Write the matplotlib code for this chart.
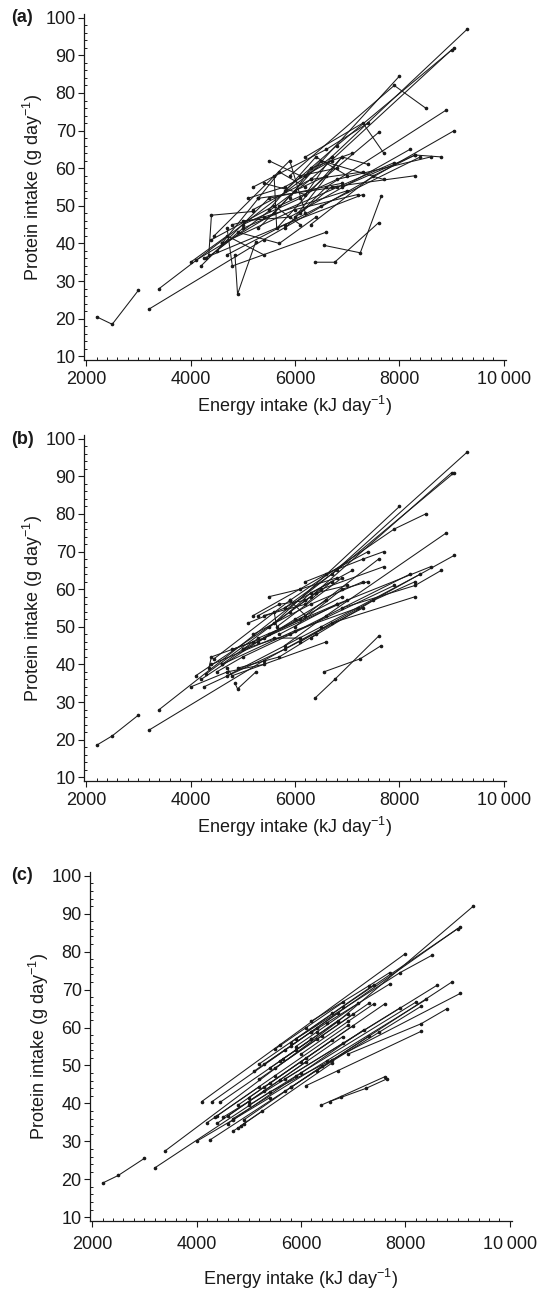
import matplotlib
matplotlib.use("Agg")
import matplotlib.pyplot as plt
from matplotlib.ticker import MultipleLocator, FuncFormatter

plt.rcParams['font.family'] = ['Liberation Sans', 'DejaVu Sans']
plt.rcParams['mathtext.fontset'] = 'custom'
plt.rcParams['mathtext.rm'] = 'Liberation Sans'
plt.rcParams['mathtext.it'] = 'Liberation Sans:italic'

# Energy intake (kJ/day) at the three visits, per subject
energy = [
    [2200, 2500, 3000], [3200, 5400, 9050], [3400, 6700, 9300], [4350, 4400, 5200],
    [4450, 5900, 6200], [4100, 5600, 8000], [4300, 6300, 9000], [4850, 4900, 5250],
    [4200, 5500, 6900], [4500, 5000, 7900], [4700, 6500, 8400], [5200, 6600, 7400],
    [5000, 6100, 7600], [4600, 5300, 6800], [5600, 5650, 6900], [5500, 6400, 7000],
    [4250, 5800, 7300], [5900, 6300, 7100], [5300, 6000, 6600], [6300, 7500, 8300],
    [6200, 6500, 7700], [5100, 5800, 6700], [4700, 4800, 6600], [5700, 6800, 8600],
    [6380, 6760, 7600], [5800, 6600, 8900], [4000, 4700, 5400], [5400, 6200, 6700],
    [6000, 6900, 7400], [4400, 5600, 6100], [5000, 5900, 8200], [6550, 7250, 7650],
    [5200, 6300, 7300], [4900, 5700, 6400], [4600, 6000, 7200], [5500, 6100, 6800],
    [6100, 6700, 8300], [4800, 5400, 7000], [5300, 5700, 6200], [6200, 7300, 7700],
    [5900, 7900, 8500], [5800, 6800, 9050], [6900, 8300, 8800],
]

# (a) observed protein intake (g/day)
protein_a = [
    [20.5, 18.5, 27.5], [22.5, 41, 70], [28, 63, 97], [37, 47.5, 48.5],
    [42, 62, 48], [35.5, 48, 84.5], [36, 57, 91.5], [37, 26.5, 40.5],
    [34, 52, 56], [38, 44, 61.5], [37, 50, 63], [55, 65, 72],
    [45, 52, 69.5], [40, 52, 55], [58, 44, 63], [49, 63, 58],
    [36, 45, 53], [52, 60, 64], [44, 54, 58], [45, 58, 63.5],
    [58, 62, 57], [52, 55, 62], [44, 34, 43], [50, 57, 63],
    [35, 35, 45.5], [44, 55, 75.5], [35, 42, 37], [56, 53, 63],
    [47, 63, 61], [41, 50, 45], [46, 47, 65], [39.5, 37.5, 52.5],
    [49, 57, 59], [43, 40, 47], [40, 49, 53], [62, 58, 60],
    [48, 55, 58], [45, 47, 54], [52, 59, 55], [63, 72, 64],
    [58, 82, 76], [54, 66, 92], [55, 63.5, 63],
]

# (b) model-smoothed protein intake
protein_b = [
    [18.5, 21, 26.5], [22.5, 41, 69], [28, 64, 96.5], [39, 42, 46],
    [41.5, 57, 53], [37, 51, 82], [37.5, 58, 91], [35, 33.5, 38],
    [36, 48, 58], [38, 42, 61], [37, 50, 64], [53, 64, 70],
    [44, 52, 68], [40, 47, 56], [54, 50, 63], [50, 59, 61],
    [34, 44, 55], [54, 59, 65], [46, 52, 57], [47, 57, 62],
    [57, 60, 66], [51, 55, 62], [39, 37, 46], [48, 56, 66],
    [31, 36, 47.5], [45, 53, 75], [34, 38, 40], [53, 56, 62],
    [50, 60, 62], [40, 47, 47], [44, 48, 64], [38, 41.5, 45],
    [48, 56, 62], [39, 42, 48], [40, 49, 55], [58, 60, 63],
    [46, 51, 58], [44, 47, 57], [53, 56, 57], [62, 68, 70],
    [57, 76, 80], [55, 65, 91], [55, 61, 65],
]

# (c) fitted protein intake
protein_c = [
    [19, 21, 25.5], [23, 43, 69], [27.5, 61.5, 92], [36.3, 36.8, 44.4],
    [40.3, 54, 56.9], [40.5, 55.5, 79.5], [40.5, 59.9, 86.1], [34.1, 34.6, 37.9],
    [34.9, 47.3, 60.6], [36.3, 40.5, 65.2], [36, 51.3, 67.4], [50.4, 63.7, 71.3],
    [41.5, 52, 66.2], [36.7, 43.4, 57.6], [51.2, 51.7, 63.6], [49.3, 57.8, 63.5],
    [30.3, 44.2, 57.7], [55, 58.8, 66.4], [44.3, 51, 56.7], [48.6, 58.8, 65.6],
    [58.7, 61.3, 71.5], [48.5, 55.1, 63.7], [32.7, 33.6, 50.7], [46.5, 55.8, 71.1],
    [39.5, 41.8, 47], [44.2, 51.4, 72.1], [30, 35.7, 41.5], [49.3, 56.9, 61.7],
    [53, 61.6, 66.3], [34.8, 46.2, 51], [39.5, 47.2, 66.7], [40.5, 44, 46.5],
    [46.4, 56.9, 66.4], [35.6, 43.2, 49.8], [34.7, 48, 59.4], [54.3, 60, 66.6],
    [44.7, 48.6, 59], [39.6, 45.3, 60.5], [50.4, 54.2, 58.9], [61.7, 71, 74.5],
    [57, 74.5, 79], [56, 65.5, 86.5], [53, 61, 65],
]

panel_labels = ['(a)', '(b)', '(c)']
x_ticks = [2000, 4000, 6000, 8000, 10000]
y_ticks = [10, 20, 30, 40, 50, 60, 70, 80, 90, 100]

W, H = 539, 1296
fig = plt.figure(figsize=(W / 100, H / 100), dpi=100)

# axes rectangles in pixels: left, top, right, bottom
rects = [
    (84, 14, 506, 360),
    (84, 435, 506, 781),
    (90, 872, 512, 1221),
]
xtick_pads = [4, 4, 7]
xlabel_pads = [4, 4, 10]

FS = 13
ink = '#1a1a1a'

def fmt(v, pos):
    v = int(round(v))
    if v >= 10000:
        return '{:,}'.format(v).replace(',', '\u2009')
    return str(v)

for k, (panel, prot) in enumerate(zip(panel_labels, [protein_a, protein_b, protein_c])):
    l, t, r, b = rects[k]
    ax = fig.add_axes([l / W, 1 - b / H, (r - l) / W, (b - t) / H])
    for e, p in zip(energy, prot):
        ax.plot(e, p, color=ink, lw=0.75, marker='o', ms=1.6, mec=ink, mfc=ink)
    ax.set_xlim(1960, 10040)
    ax.set_ylim(9, 101)
    ax.set_xticks(x_ticks)
    ax.set_yticks(y_ticks)
    ax.xaxis.set_major_formatter(FuncFormatter(fmt))
    ax.xaxis.set_minor_locator(MultipleLocator(200))
    ax.yaxis.set_minor_locator(MultipleLocator(2))
    ax.tick_params(which='major', direction='out', length=4, width=0.8,
                   labelsize=FS, colors=ink, pad=2)
    ax.tick_params(axis='x', which='major', pad=xtick_pads[k])
    ax.tick_params(which='minor', direction='in', length=2.5, width=0.7, colors=ink)
    for s in ['top', 'right']:
        ax.spines[s].set_visible(False)
    for s in ['left', 'bottom']:
        ax.spines[s].set_linewidth(0.9)
        ax.spines[s].set_color(ink)
    ax.set_xlabel('Energy intake (kJ day$^{-1}$)', fontsize=FS, color=ink,
                  labelpad=xlabel_pads[k])
    ax.set_ylabel('Protein intake (g day$^{-1}$)', fontsize=FS, color=ink, labelpad=0)
    fig.text(11 / W, 1 - (t + 4) / H, panel, fontsize=FS, fontweight='bold',
             color=ink, ha='left', va='center')

fig.savefig('out.png', dpi=100)
